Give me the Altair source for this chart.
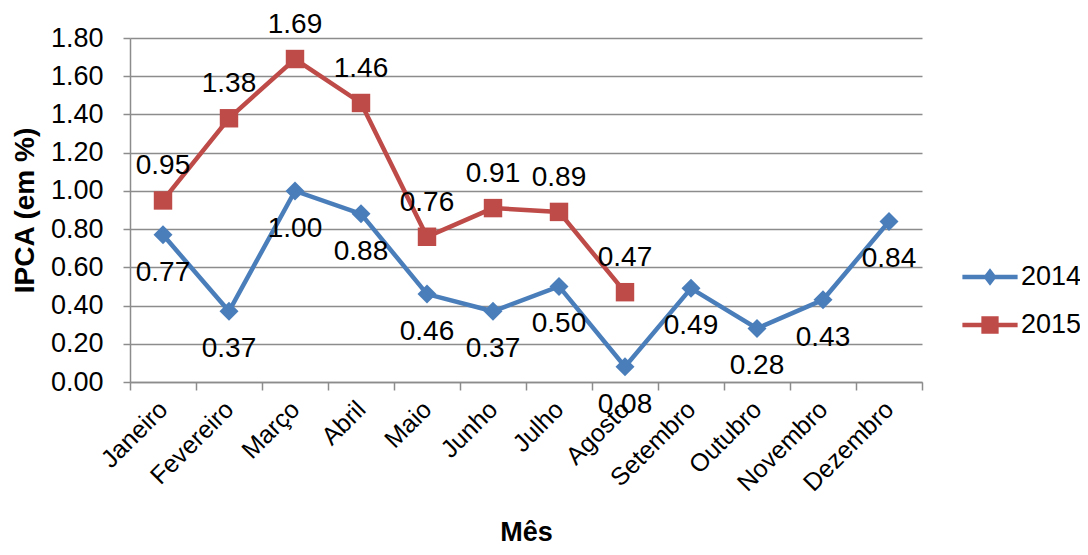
import altair as alt
import pandas as pd

meses = ["Janeiro", "Fevereiro", "Março", "Abril", "Maio", "Junho", "Julho",
         "Agosto", "Setembro", "Outubro", "Novembro", "Dezembro"]
ipca_2014 = [0.77, 0.37, 1.00, 0.88, 0.46, 0.37, 0.50, 0.08, 0.49, 0.28, 0.43, 0.84]
ipca_2015 = [0.95, 1.38, 1.69, 1.46, 0.76, 0.91, 0.89, 0.47]
anos = ["2014", "2015"]
cores = ["#4A7EBB", "#BE4B48"]
y_ticks = [0.0, 0.2, 0.4, 0.6, 0.8, 1.0, 1.2, 1.4, 1.6, 1.8]

rows = []
for m, v in zip(meses, ipca_2014):
    rows.append({"mes": m, "ano": "2014", "valor": v})
for m, v in zip(meses, ipca_2015):
    rows.append({"mes": m, "ano": "2015", "valor": v})
df = pd.DataFrame(rows)

FONT = "Liberation Sans"
GRID = "#8C8C8C"

x_enc = alt.X(
    "mes:N",
    sort=meses,
    scale=alt.Scale(type="band", domain=meses, paddingInner=0, paddingOuter=0),
    axis=alt.Axis(
        title="Mês", labelAngle=-45, labelAlign="right", labelBaseline="middle",
        labelFontSize=25, labelPadding=15, tickBand="extent", tickSize=8,
        tickColor=GRID, domainColor=GRID, tickWidth=1.5, domainWidth=1.5,
        grid=False, titleFontSize=27, titleFontWeight="bold",
        titleY=150, titleBaseline="middle", labelColor="black", titleColor="black",
    ),
)
y_enc = alt.Y(
    "valor:Q",
    scale=alt.Scale(domain=[0, 1.8], nice=False),
    axis=alt.Axis(
        title="IPCA (em %)", values=y_ticks, format=".2f", labelFontSize=27,
        labelPadding=20, tickSize=7, tickColor=GRID, domainColor=GRID,
        tickWidth=1.5, domainWidth=1.5, gridColor=GRID, gridWidth=1.5,
        titleFontSize=28, titleFontWeight="bold", titleX=-105,
        titleBaseline="middle", labelColor="black", titleColor="black",
    ),
)
color_scale = alt.Scale(domain=anos, range=cores)

diamond_sym = "M-1.15,-0.09L1.15,-0.09L1.15,0.09L-1.15,0.09Z M0,-0.36L0.28,0L0,0.36L-0.28,0Z"
square_sym = "M-1.15,-0.09L1.15,-0.09L1.15,0.09L-1.15,0.09Z M-0.36,-0.36L0.36,-0.36L0.36,0.36L-0.36,0.36Z"

legend_cfg = alt.Legend(
    title=None, orient="none", legendX=836, legendY=215, symbolSize=2304,
    symbolStrokeWidth=0, labelFontSize=27, labelFont=FONT, labelOffset=7,
    rowPadding=11, padding=0, labelColor="black", symbolOpacity=1,
)
color_enc = alt.Color("ano:N", scale=color_scale, legend=legend_cfg)

base = alt.Chart(df)

legend_layer = base.mark_point(filled=True, opacity=0).encode(
    x=x_enc, y=y_enc,
    color=color_enc,
    shape=alt.Shape("ano:N", scale=alt.Scale(domain=anos, range=[diamond_sym, square_sym]),
                    legend=legend_cfg),
)

lines = base.mark_line(strokeWidth=4.5).encode(x=x_enc, y=y_enc, color=color_enc)

pts_2014 = base.transform_filter(alt.datum.ano == "2014").mark_point(
    shape="diamond", filled=True, size=360, opacity=1
).encode(x=x_enc, y=y_enc, color=color_enc)

pts_2015 = base.transform_filter(alt.datum.ano == "2015").mark_point(
    shape="square", filled=True, size=340, opacity=1
).encode(x=x_enc, y=y_enc, color=color_enc)

lab_2014 = base.transform_filter(alt.datum.ano == "2014").mark_text(
    dy=38, fontSize=28, font=FONT, color="black"
).encode(x=x_enc, y=y_enc, text=alt.Text("valor:Q", format=".2f"))

lab_2015 = base.transform_filter(alt.datum.ano == "2015").mark_text(
    dy=-34, fontSize=28, font=FONT, color="black"
).encode(x=x_enc, y=y_enc, text=alt.Text("valor:Q", format=".2f"))

chart = alt.layer(legend_layer, lines, pts_2014, pts_2015, lab_2014, lab_2015).properties(
    width=792, height=344,
    autosize=alt.AutoSizeParams(type="none"),
    padding={"left": 122, "top": 30, "right": 158, "bottom": 165},
).configure(font=FONT).configure_view(stroke=None).configure_axis(
    labelFont=FONT, titleFont=FONT
)

chart.save("out.html", embed_options={"renderer": "svg", "actions": False})
